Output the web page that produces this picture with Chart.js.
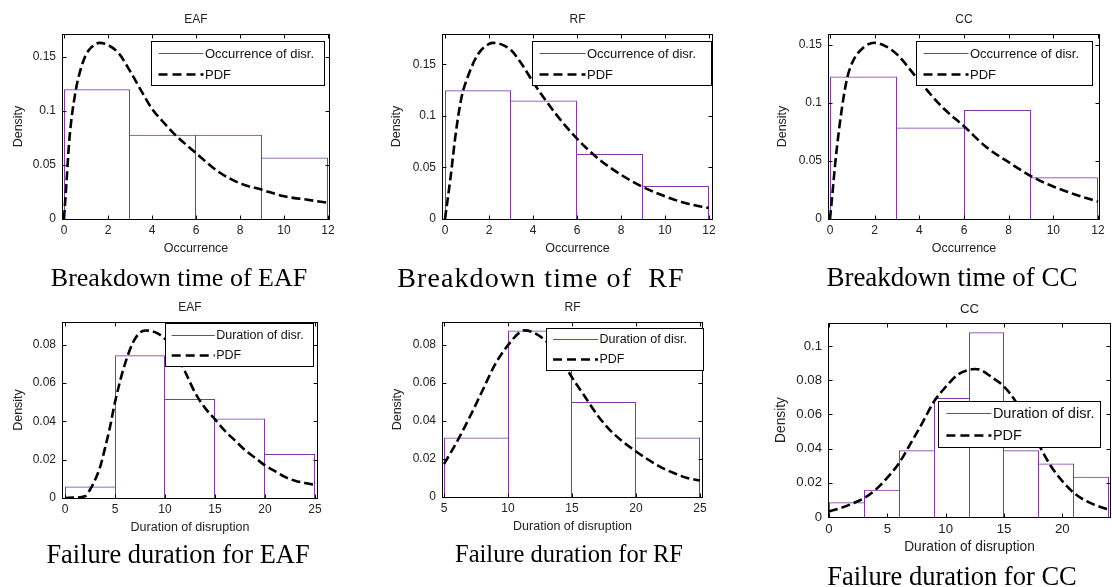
<!DOCTYPE html>
<html>
<head>
<meta charset="utf-8">
<title>Breakdown time and failure duration histograms</title>
<script src="https://cdn.jsdelivr.net/npm/chart.js@4.4.1/dist/chart.umd.min.js"></script>
<style>
  html, body { margin: 0; padding: 0; background: #fff; width: 1112px; height: 587px; overflow: hidden; }
  canvas { position: absolute; }
  .cap { position: absolute; width: 400px; text-align: center; white-space: pre;
         font-family: "Liberation Serif", "Times New Roman", serif; color: #000; line-height: 1; }
</style>
</head>
<body>
<script>
// ---------------- data ----------------
// Breakdown time: occurrence histograms (density), bins of width 3
const occEdges = [0, 3, 6, 9, 12];
const occEAF = [0.120, 0.078, 0.078, 0.057];
const occRF  = [0.125, 0.115, 0.063, 0.032];
const occCC  = [0.123, 0.079, 0.094, 0.036];

// fitted densities for the breakdown time
const pdfOccEAFx = [0, 0.1, 0.25, 0.5, 0.75, 1, 1.25, 1.6, 2, 2.5, 3, 3.5, 4, 4.5, 5, 6, 7, 8, 9, 10, 11, 12];
const pdfOccEAFy = [0, 0.03, 0.075, 0.115, 0.138, 0.152, 0.159, 0.163, 0.161, 0.153, 0.137, 0.119, 0.102, 0.090, 0.079, 0.061, 0.044, 0.033, 0.027, 0.021, 0.018, 0.015];
const pdfOccRFx  = [0, 0.25, 0.5, 0.75, 1, 1.5, 2, 2.2, 2.5, 3, 3.5, 4, 5, 6, 7, 8, 9, 10, 11, 12];
const pdfOccRFy  = [0, 0.04, 0.085, 0.118, 0.136, 0.160, 0.170, 0.171, 0.170, 0.164, 0.150, 0.133, 0.103, 0.078, 0.058, 0.043, 0.031, 0.022, 0.015, 0.0106];
const pdfOccCCx  = [0, 0.1, 0.25, 0.5, 0.75, 1, 1.5, 2, 2.5, 3, 4, 5, 6, 7, 8, 9, 10, 11, 12];
const pdfOccCCy  = [0, 0.02, 0.051, 0.091, 0.120, 0.135, 0.148, 0.152, 0.149, 0.142, 0.119, 0.097, 0.080, 0.062, 0.049, 0.037, 0.028, 0.021, 0.015];

// Failure duration histograms (density)
const durEdgesEAF = [0, 5, 10, 15, 20, 25];
const durEAF      = [0.006, 0.0745, 0.0517, 0.0415, 0.023];
const durEdgesRF  = [5, 10, 15, 20, 25];
const durRF       = [0.0313, 0.0877, 0.050, 0.0313];
const durEdgesCC  = [0, 3, 6, 9, 12, 15, 18, 21, 24];
const durCC       = [0.0086, 0.016, 0.039, 0.0695, 0.108, 0.039, 0.0313, 0.0235];

// fitted densities for the failure duration
const pdfDurEAFx = [0, 1, 2, 2.5, 3, 3.5, 4, 4.5, 5, 6, 7, 8, 9, 10, 11, 12, 13, 14, 15, 16, 17, 18, 19, 20, 21, 22, 23, 24, 25];
const pdfDurEAFy = [0, 0.0002, 0.0009, 0.0043, 0.0094, 0.016, 0.026, 0.037, 0.050, 0.070, 0.083, 0.0874, 0.0865, 0.083, 0.076, 0.066, 0.055, 0.047, 0.041, 0.035, 0.030, 0.025, 0.021, 0.017, 0.014, 0.011, 0.009, 0.0078, 0.0068];
const pdfDurRFx  = [5, 6, 7, 8, 9, 10, 11, 11.3, 12, 13, 14, 15, 16, 17, 18, 19, 20, 21, 22, 23, 24, 25];
const pdfDurRFy  = [0.0174, 0.029, 0.042, 0.056, 0.070, 0.080, 0.0872, 0.0878, 0.0866, 0.082, 0.074, 0.063, 0.053, 0.043, 0.035, 0.029, 0.024, 0.0195, 0.0155, 0.0125, 0.010, 0.0087];
const pdfDurCCx  = [0, 1, 2, 3, 4, 5, 6, 7, 8, 9, 10, 11, 12, 12.5, 13, 14, 15, 16, 17, 18, 19, 20, 21, 22, 23, 24];
const pdfDurCCy  = [0.0033, 0.0053, 0.0078, 0.011, 0.016, 0.023, 0.0315, 0.043, 0.055, 0.0675, 0.076, 0.083, 0.086, 0.0865, 0.086, 0.0815, 0.0763, 0.0675, 0.055, 0.042, 0.030, 0.021, 0.014, 0.0095, 0.0065, 0.0042];

// tick labels
const occXTicks    = [0, 2, 4, 6, 8, 10, 12];
const occYTicks    = [0, 0.05, 0.1, 0.15];
const durXTicksEAF = [0, 5, 10, 15, 20, 25];
const durXTicksRF  = [5, 10, 15, 20, 25];
const durXTicksCC  = [0, 5, 10, 15, 20];
const durYTicks    = [0, 0.02, 0.04, 0.06, 0.08];
const durYTicksCC  = [0, 0.02, 0.04, 0.06, 0.08, 0.1];

// texts
const plantNames     = ['EAF', 'RF', 'CC'];
const captionsTop    = ['Breakdown time of EAF', 'Breakdown time of  RF', 'Breakdown time of CC'];
const captionsBottom = ['Failure duration for EAF', 'Failure duration for RF', 'Failure duration for CC'];
const occLegend = ['Occurrence of disr.', 'PDF'];
const durLegend = ['Duration of disr.', 'PDF'];
const occAxisTitle = 'Occurrence';
const durAxisTitle = 'Duration of disruption';
const densityTitle = 'Density';

// ---------------- drawing helpers ----------------
const SANS = '"Liberation Sans", Arial, Helvetica, sans-serif';
const HIST_COLOR = '#7d3aa8';
const fmt = v => String(+(+v).toFixed(4));

// axes box with inward tick marks on all four sides
const boxAxes = {
  id: 'boxAxes',
  afterDatasetsDraw(chart, args, o) {
    const {ctx, chartArea: a, scales: {x, y}} = chart;
    const l = Math.round(a.left) + 0.5, r = Math.round(a.right) - 0.5;
    const t = Math.round(a.top) + 0.5, b = Math.round(a.bottom) + 0.5;
    ctx.save();
    ctx.strokeStyle = '#000';
    ctx.lineWidth = 1;
    ctx.strokeRect(l, t, r - l, b - t);
    ctx.beginPath();
    x.ticks.forEach(tk => {
      const p = Math.round(x.getPixelForValue(tk.value)) + 0.5;
      ctx.moveTo(p, b); ctx.lineTo(p, b - o.len);
      ctx.moveTo(p, t); ctx.lineTo(p, t + o.len);
    });
    y.ticks.forEach(tk => {
      const p = Math.round(y.getPixelForValue(tk.value)) + 0.5;
      ctx.moveTo(l, p); ctx.lineTo(l + o.len, p);
      ctx.moveTo(r, p); ctx.lineTo(r - o.len, p);
    });
    ctx.stroke();
    ctx.restore();
  }
};

// boxed legend placed inside the axes
const boxLegend = {
  id: 'boxLegend',
  afterDraw(chart, args, o) {
    const {ctx, chartArea: a} = chart;
    const x = Math.round(a.left + o.x), y = Math.round(a.top + o.y);
    const w = Math.round(o.w), h = Math.round(o.h);
    ctx.save();
    ctx.fillStyle = '#fff';
    ctx.fillRect(x, y, w, h);
    ctx.strokeStyle = '#000';
    ctx.lineWidth = 1;
    ctx.strokeRect(x + 0.5, y + 0.5, w, h);
    ctx.font = o.size + 'px ' + SANS;
    ctx.textBaseline = 'middle';
    chart.data.datasets.forEach((ds, i) => {
      const ry = Math.round(y + h * (i === 0 ? 0.27 : 0.74)) + 0.5;
      ctx.beginPath();
      ctx.strokeStyle = ds.borderColor;
      ctx.lineWidth = ds.type === 'line' ? ds.borderWidth : 1;
      ctx.setLineDash(ds.type === 'line' ? [9, 5] : []);
      ctx.moveTo(x + o.pad, ry);
      ctx.lineTo(x + o.pad + o.len, ry);
      ctx.stroke();
      ctx.setLineDash([]);
      ctx.fillStyle = '#111';
      ctx.fillText(ds.label, x + o.pad + o.len + 1.5, ry + 0.5);
    });
    ctx.restore();
  }
};

const panels = [
  { L: 62,  R: 330,  T: 34,  B: 219, xr: [-0.0909, 12.0909], yr: [0, 0.1712], xTicks: occXTicks, yTicks: occYTicks,
    edges: occEdges, bars: occEAF, px: pdfOccEAFx, py: pdfOccEAFy, name: plantNames[0], xTitle: occAxisTitle,
    legend: occLegend, dens: 43.7, leg: {x: 89, y: 7.4, w: 173, h: 43.5, size: 13, pad: 7.5, len: 45}, fs: 1 },
  { L: 442, R: 713,  T: 34,  B: 219, xr: [-0.13636, 12.18182], yr: [0, 0.1796], xTicks: occXTicks, yTicks: occYTicks,
    edges: occEdges, bars: occRF, px: pdfOccRFx, py: pdfOccRFy, name: plantNames[1], xTitle: occAxisTitle,
    legend: occLegend, dens: 45.6, leg: {x: 89.5, y: 7.4, w: 179, h: 44.3, size: 13, pad: 7.5, len: 46}, fs: 1 },
  { L: 828, R: 1100, T: 34,  B: 219, xr: [-0.08955, 12.08955], yr: [0, 0.1596], xTicks: occXTicks, yTicks: occYTicks,
    edges: occEdges, bars: occCC, px: pdfOccCCx, py: pdfOccCCy, name: plantNames[2], xTitle: occAxisTitle,
    legend: occLegend, dens: 45.6, leg: {x: 88, y: 7.4, w: 176, h: 44, size: 13, pad: 7.5, len: 45}, fs: 1 },
  { L: 62,  R: 318,  T: 322, B: 498, xr: [-0.3, 25.3], yr: [0, 0.0918], xTicks: durXTicksEAF, yTicks: durYTicks,
    edges: durEdgesEAF, bars: durEAF, px: pdfDurEAFx, py: pdfDurEAFy, name: plantNames[0], xTitle: durAxisTitle,
    legend: durLegend, dens: 43.4, leg: {x: 103.3, y: 1.3, w: 148.3, h: 42.7, size: 12.5, pad: 6.7, len: 43}, fs: 1 },
  { L: 442, R: 703,  T: 322, B: 497, xr: [4.84375, 25.234375], yr: [0, 0.0922], xTicks: durXTicksRF, yTicks: durYTicks,
    edges: durEdgesRF, bars: durRF, px: pdfDurRFx, py: pdfDurRFy, name: plantNames[1], xTitle: durAxisTitle,
    legend: durLegend, dens: 44, leg: {x: 104.4, y: 6, w: 157, h: 42, size: 12.5, pad: 7, len: 45}, fs: 1 },
  { L: 828, R: 1111, T: 323, B: 517, xr: [-0.085714, 24.171429], yr: [0, 0.1134], xTicks: durXTicksCC, yTicks: durYTicksCC,
    edges: durEdgesCC, bars: durCC, px: pdfDurCCx, py: pdfDurCCy, name: plantNames[2], xTitle: durAxisTitle,
    legend: durLegend, dens: 46.6, leg: {x: 110, y: 78.4, w: 162.4, h: 45.6, size: 14.5, pad: 8.4, len: 45}, fs: 1.1 }
];

const Y_AXIS_W = 62, TITLE_H = 34, X_AXIS_H = 40, PAD_R = 12;

panels.forEach(p => {
  const cv = document.createElement('canvas');
  const w = (p.R - p.L) + Y_AXIS_W + PAD_R;
  const h = (p.B - p.T) + TITLE_H + X_AXIS_H + 2;
  cv.width = w; cv.height = h;
  cv.style.left = (p.L - Y_AXIS_W) + 'px';
  cv.style.top = (p.T - TITLE_H) + 'px';
  cv.style.width = w + 'px'; cv.style.height = h + 'px';
  document.body.appendChild(cv);

  const tickSize = 12 * p.fs, axisTitleSize = 12.5 * p.fs, titleSize = 12 * p.fs;
  const axisLH = axisTitleSize * 1.2;
  const titlePadTop = 12.1;
  const titlePadBottom = TITLE_H - titlePadTop - titleSize * 1.2;

  const n = p.bars.length;
  const centers = p.bars.map((_, i) => (p.edges[i] + p.edges[i + 1]) / 2);
  const barData = p.bars.map((v, i) => ({x: centers[i], y: v}));
  const pdfData = p.px.map((v, i) => ({x: v, y: p.py[i]}));

  // a shared bin edge is stroked once, by the taller of its two bars
  const edgeWidths = ctx => {
    const i = ctx.dataIndex, d = p.bars;
    return {
      left: (i === 0 || d[i] > d[i - 1]) ? 1 : 0,
      right: (i === n - 1 || d[i] >= d[i + 1]) ? 1 : 0,
      top: 1, bottom: 0
    };
  };

  new Chart(cv, {
    type: 'bar',
    data: {
      datasets: [
        {
          type: 'bar', label: p.legend[0], data: barData, order: 2,
          backgroundColor: 'rgba(255,255,255,0)', borderColor: HIST_COLOR,
          borderWidth: edgeWidths, borderSkipped: false,
          barThickness: 'flex', barPercentage: 1, categoryPercentage: 1, inflateAmount: 0
        },
        {
          type: 'line', label: p.legend[1], data: pdfData, order: 1,
          borderColor: '#000', borderWidth: 2.6, borderDash: [9, 4],
          pointRadius: 0, fill: false, cubicInterpolationMode: 'monotone'
        }
      ]
    },
    options: {
      responsive: false, animation: false, devicePixelRatio: 1, events: [],
      layout: { padding: { left: 0, top: 0, right: PAD_R, bottom: 2 } },
      scales: {
        x: {
          type: 'linear', min: p.xr[0], max: p.xr[1], offset: false,
          afterBuildTicks: s => { s.ticks = p.xTicks.map(v => ({value: v})); },
          afterFit: s => { s.height = X_AXIS_H; },
          grid: { display: false, drawTicks: false }, border: { display: false },
          ticks: { padding: 4.5, color: '#222', maxRotation: 0, autoSkip: false,
                   font: { family: SANS, size: tickSize }, callback: v => fmt(v) },
          title: { display: true, text: p.xTitle, color: '#222',
                   font: { family: SANS, size: axisTitleSize, lineHeight: 1.2 },
                   padding: { top: 0, bottom: Math.max(0, X_AXIS_H - 30 - axisLH / 2) } }
        },
        y: {
          type: 'linear', min: p.yr[0], max: p.yr[1],
          afterBuildTicks: s => { s.ticks = p.yTicks.map(v => ({value: v})); },
          afterFit: s => { s.width = Y_AXIS_W; },
          grid: { display: false, drawTicks: false }, border: { display: false },
          ticks: { padding: 6, color: '#222', autoSkip: false,
                   font: { family: SANS, size: tickSize }, callback: v => fmt(v) },
          title: { display: true, text: densityTitle, color: '#222',
                   font: { family: SANS, size: axisTitleSize, lineHeight: 1.2 },
                   padding: { top: Y_AXIS_W - p.dens - axisLH / 2, bottom: 0 } }
        }
      },
      plugins: {
        legend: { display: false },
        tooltip: { enabled: false },
        title: { display: true, fullSize: false, text: p.name, color: '#222',
                 font: { family: SANS, size: titleSize, weight: 'normal', lineHeight: 1.2 },
                 padding: { top: titlePadTop, bottom: titlePadBottom } },
        boxAxes: { len: 4 },
        boxLegend: p.leg
      }
    },
    plugins: [boxAxes, boxLegend]
  });
});

// captions under each panel: [text, centre x, baseline y, font size, letter spacing]
const captions = [
  [captionsTop[0], 179, 287, 26, 0],
  [captionsTop[1], 541, 287, 28, 1.1],
  [captionsTop[2], 952, 287, 27, 0],
  [captionsBottom[0], 178, 563, 26.4, 0],
  [captionsBottom[1], 569, 563, 24.5, 0],
  [captionsBottom[2], 952, 585, 26.5, 0]
];
captions.forEach(([text, cx, base, size, ls]) => {
  const d = document.createElement('div');
  d.className = 'cap';
  d.textContent = text;
  d.style.fontSize = size + 'px';
  d.style.letterSpacing = ls + 'px';
  d.style.left = (cx - 200) + 'px';
  d.style.top = (base - 0.8375 * size) + 'px';
  document.body.appendChild(d);
});
</script>
</body>
</html>
